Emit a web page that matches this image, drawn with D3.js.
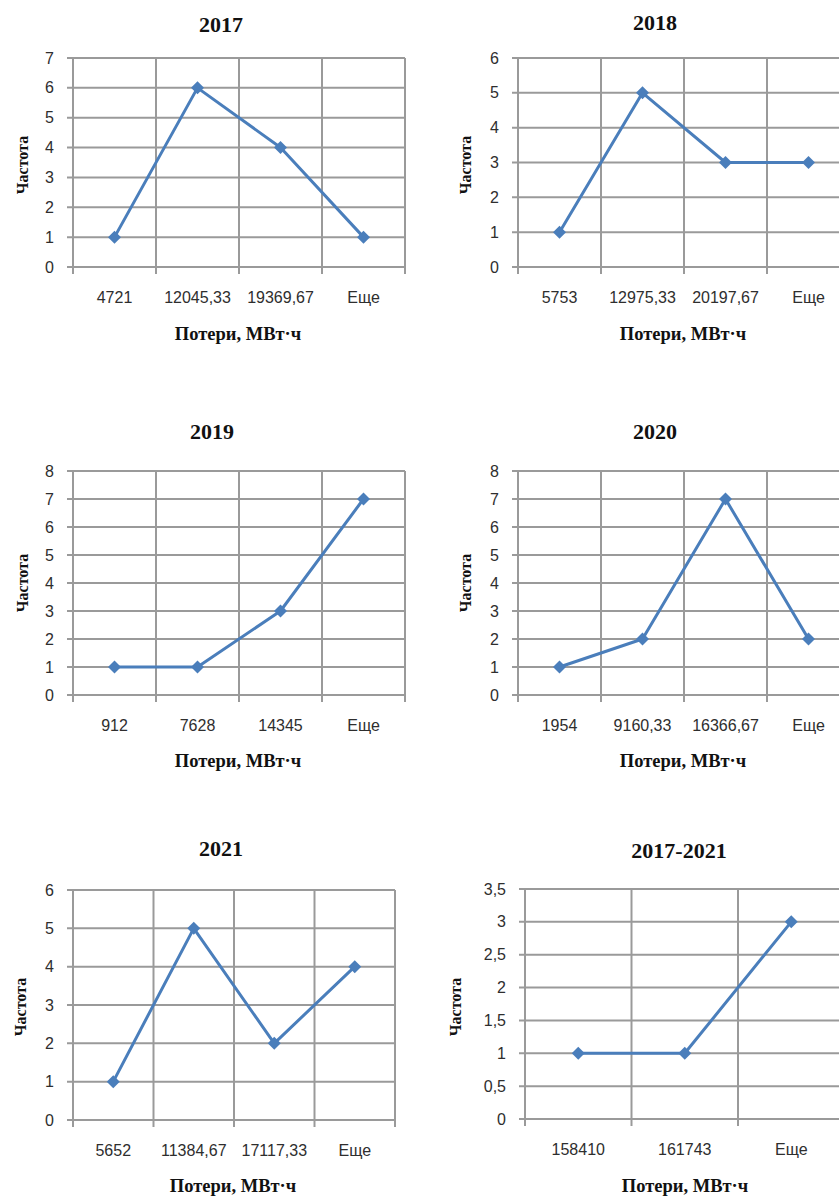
<!DOCTYPE html>
<html lang="ru">
<head>
<meta charset="utf-8">
<script src="https://cdn.jsdelivr.net/npm/d3@7"></script>
<style>
  html, body { margin: 0; padding: 0; background: #ffffff; }
  svg { display: block; }
  .tick text { font-family: "Liberation Sans", Arial, sans-serif; font-size: 16px; fill: #2e2e2e; }
  .title { font-family: "Liberation Serif", "Times New Roman", serif; font-weight: bold; font-size: 22px; fill: #111; }
  .axis-title { font-family: "Liberation Serif", "Times New Roman", serif; font-weight: bold; font-size: 18.5px; fill: #111; }
</style>
</head>
<body>
<svg id="chart" width="839" height="1196"></svg>
<script>
// Histogram frequency polygons of losses, MW·h, by year
const titles = ["2017", "2018", "2019", "2020", "2021", "2017-2021"];

const bins2017 = ["4721", "12045,33", "19369,67", "Еще"];
const freq2017 = [1, 6, 4, 1];

const bins2018 = ["5753", "12975,33", "20197,67", "Еще"];
const freq2018 = [1, 5, 3, 3];

const bins2019 = ["912", "7628", "14345", "Еще"];
const freq2019 = [1, 1, 3, 7];

const bins2020 = ["1954", "9160,33", "16366,67", "Еще"];
const freq2020 = [1, 2, 7, 2];

const bins2021 = ["5652", "11384,67", "17117,33", "Еще"];
const freq2021 = [1, 5, 2, 4];

const binsAll = ["158410", "161743", "Еще"];
const freqAll = [1, 1, 3];

// value-axis ranges: [max, step]
const yAxisMax  = [7, 6, 8, 8, 6, 3.5];
const yAxisStep = [1, 1, 1, 1, 1, 0.5];

const xAxisTitle = "Потери, МВт·ч";
const yAxisTitle = "Частота";

const binsList = [bins2017, bins2018, bins2019, bins2020, bins2021, binsAll];
const freqList = [freq2017, freq2018, freq2019, freq2020, freq2021, freqAll];

// Panel geometry (plot area box, title & axis-title anchors)
const layout = [
  { left: 73,  top: 58,  step: 83,    bottom: 267,  tx: 221, ty: 32,   ax: 238, ay: 340,  yl: 22,  ylc: 165 },
  { left: 518, top: 58,  step: 83,    bottom: 267,  tx: 655, ty: 30,   ax: 683, ay: 340,  yl: 465, ylc: 165 },
  { left: 73,  top: 471, step: 83,    bottom: 695,  tx: 212, ty: 439,  ax: 238, ay: 767,  yl: 22,  ylc: 583 },
  { left: 518, top: 471, step: 83,    bottom: 695,  tx: 655, ty: 439,  ax: 683, ay: 767,  yl: 465, ylc: 583 },
  { left: 73,  top: 890, step: 80.5,  bottom: 1120, tx: 221, ty: 856,  ax: 233, ay: 1192, yl: 20,  ylc: 1007 },
  { left: 525, top: 889, step: 106.5, bottom: 1119, tx: 679, ty: 858,  ax: 685, ay: 1192, yl: 455, ylc: 1007 }
];

const gridColor = "#9a9a9a";
const lineColor = "#4a7ebb";

const svg = d3.select("#chart");
const fmt = d => String(d).replace(".", ",");

// square diamond marker, half-diagonal of 6.5px
const markerR = 6.5;
const hasDiamond2 = !!d3.symbolDiamond2;
const diamond = hasDiamond2
  ? d3.symbol().type(d3.symbolDiamond2).size(Math.pow(markerR / 0.62625, 2))
  : d3.symbol().type(d3.symbolSquare).size(2 * markerR * markerR);

layout.forEach((L, i) => {
  const cats = binsList[i];
  const vals = freqList[i];
  const right = L.left + L.step * cats.length;

  const x = d3.scaleBand().domain(cats).range([L.left, right]).padding(0);
  const y = d3.scaleLinear().domain([0, yAxisMax[i]]).range([L.bottom, L.top]);
  const yTicks = d3.range(0, yAxisMax[i] + yAxisStep[i] / 2, yAxisStep[i]);

  const g = svg.append("g");

  // horizontal gridlines with small outside ticks
  g.append("g").selectAll("line").data(yTicks).join("line")
    .attr("x1", L.left - 6).attr("x2", right)
    .attr("y1", d => y(d)).attr("y2", d => y(d))
    .attr("stroke", gridColor).attr("stroke-width", 2);

  // vertical gridlines at category boundaries, extending below as ticks
  const bounds = d3.range(cats.length + 1).map(k => L.left + k * x.step());
  g.append("g").selectAll("line").data(bounds).join("line")
    .attr("x1", d => d).attr("x2", d => d)
    .attr("y1", L.top).attr("y2", L.bottom + 7)
    .attr("stroke", gridColor).attr("stroke-width", 2);

  // value axis labels
  const yAxis = g.append("g")
    .attr("transform", `translate(${L.left},0)`)
    .call(d3.axisLeft(y).tickValues(yTicks).tickFormat(fmt).tickSize(0).tickPadding(19));
  yAxis.select(".domain").remove();

  // category axis labels
  const xAxis = g.append("g")
    .attr("transform", `translate(0,${L.bottom})`)
    .call(d3.axisBottom(x).tickSize(0).tickPadding(25));
  xAxis.select(".domain").remove();

  // frequency polygon
  const line = d3.line()
    .x((d, k) => x(cats[k]) + x.bandwidth() / 2)
    .y(d => y(d));
  g.append("path").datum(vals)
    .attr("d", line)
    .attr("fill", "none")
    .attr("stroke", lineColor)
    .attr("stroke-width", 3)
    .attr("stroke-linejoin", "round");

  g.append("g").selectAll("path").data(vals).join("path")
    .attr("d", diamond)
    .attr("transform", (d, k) => {
      const px = x(cats[k]) + x.bandwidth() / 2;
      return `translate(${px},${y(d)})` + (hasDiamond2 ? "" : " rotate(45)");
    })
    .attr("fill", lineColor);

  // titles
  g.append("text").attr("class", "title")
    .attr("x", L.tx).attr("y", L.ty).attr("text-anchor", "middle")
    .text(titles[i]);

  g.append("text").attr("class", "axis-title")
    .attr("x", L.ax).attr("y", L.ay).attr("text-anchor", "middle")
    .text(xAxisTitle);

  g.append("text").attr("class", "axis-title")
    .attr("transform", `translate(${L.yl + 6},${L.ylc}) rotate(-90)`)
    .attr("text-anchor", "middle")
    .style("font-size", "16px")
    .text(yAxisTitle);
});
</script>
</body>
</html>
